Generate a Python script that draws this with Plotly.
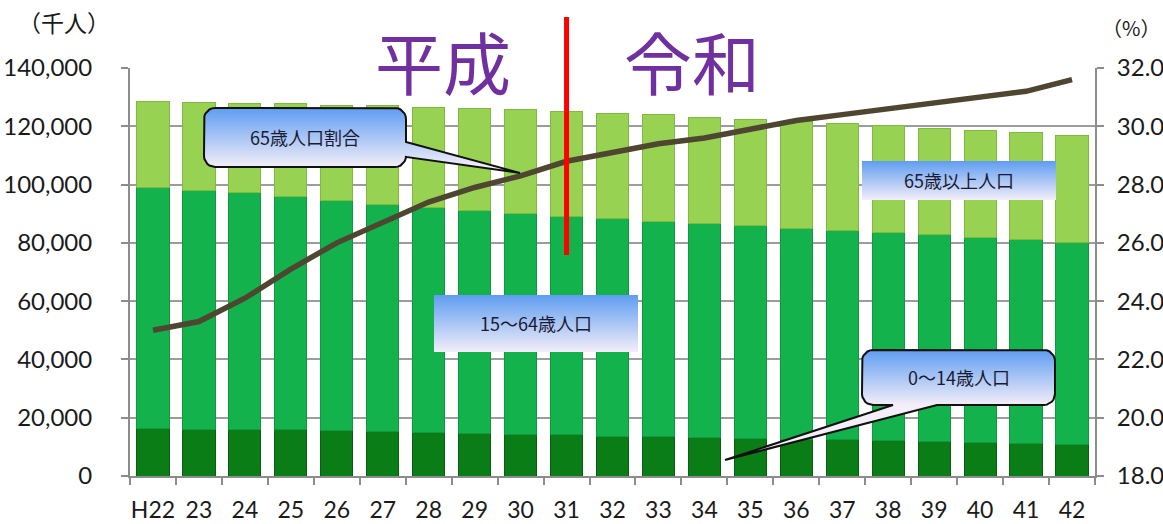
import math
import plotly.graph_objects as go

# ---------------- data ----------------
categories = ["H22", "23", "24", "25", "26", "27", "28", "29", "30", "31", "32",
              "33", "34", "35", "36", "37", "38", "39", "40", "41", "42"]
pop_0_14 = [16400, 16100, 16000, 15800, 15500, 15200, 15000, 14600, 14400, 14100, 13700,
            13500, 13300, 12900, 12600, 12400, 12100, 11800, 11400, 11200, 10900]
pop_15_64 = [82700, 82000, 81200, 80000, 79000, 78000, 77200, 76400, 75700, 74900, 74500,
             73800, 73200, 72900, 72400, 71800, 71400, 70900, 70400, 69800, 69200]
pop_65 = [29300, 30000, 30500, 31900, 32800, 33800, 34300, 35200, 35500, 36000, 36300,
          36600, 36600, 36600, 36700, 36800, 36700, 36700, 36800, 36800, 36900]
ratio_65 = [23.0, 23.3, 24.1, 25.1, 26.0, 26.7, 27.4, 27.9, 28.3, 28.8, 29.1,
            29.4, 29.6, 29.9, 30.2, 30.4, 30.6, 30.8, 31.0, 31.2, 31.6]
era_split = "31"

# ---------------- layout geometry (pixels) ----------------
W, H = 1163, 524
L, R, T, B = 130, 1095, 68, 476


def px(x, y):
    return (x - L) / (R - L), (B - y) / (B - T)


FONT_NUM = "Lato"
FONT_JP = "Noto Sans CJK JP"

fig = go.Figure()

fig.add_trace(go.Bar(x=categories, y=pop_0_14, name="0〜14歳人口",
                     marker=dict(color="#0b7d17", line=dict(color="#07600f", width=1))))
fig.add_trace(go.Bar(x=categories, y=pop_15_64, name="15〜64歳人口",
                     marker=dict(color="#14b24d", line=dict(color="#0f9a40", width=1))))
fig.add_trace(go.Bar(x=categories, y=pop_65, name="65歳以上人口",
                     marker=dict(color="#98d253", line=dict(color="#80b940", width=1))))
fig.add_trace(go.Scatter(x=categories, y=ratio_65, yaxis="y2", mode="lines",
                         line=dict(color="#4f4631", width=5.5), name="65歳人口割合"))


# ---------------- callout boxes (decoration, pixel space) ----------------
def arc(cx, cy, r, a0, a1, n=6):
    pts = []
    for i in range(n + 1):
        t = math.radians(a0 + (a1 - a0) * i / n)
        pts.append((cx + r * math.cos(t), cy + r * math.sin(t)))
    return pts


def callout(x0, y0, x1, y1, r=0, right_tail=None, bottom_tail=None):
    pts = []
    if r > 0:
        pts += [(x0 + r, y0), (x1 - r, y0)]
        pts += arc(x1 - r, y0 + r, r, -90, 0)
    else:
        pts += [(x0, y0), (x1, y0)]
    if right_tail:
        ty0, ty1, tip = right_tail
        pts += [(x1, ty0), tip, (x1, ty1)]
    if r > 0:
        pts += arc(x1 - r, y1 - r, r, 0, 90)
    else:
        pts += [(x1, y1)]
    if bottom_tail:
        bx1, bx0, tip = bottom_tail
        pts += [(bx1, y1), tip, (bx0, y1)]
    if r > 0:
        pts += arc(x0 + r, y1 - r, r, 90, 180)
        pts += arc(x0 + r, y0 + r, r, 180, 270)
    else:
        pts += [(x0, y1), (x0, y0)]
    pts.append(pts[0])
    return [p[0] for p in pts], [p[1] for p in pts]


boxes = [
    dict(rect=(204, 108, 406, 167), r=11, right_tail=(142, 157, (520, 173)), border=True,
         text="65歳人口割合"),
    dict(rect=(862, 161, 1056, 200), r=0, border=False, text="65歳以上人口"),
    dict(rect=(434, 295, 638, 352), r=0, border=False, text="15〜64歳人口"),
    dict(rect=(862, 350, 1055, 405), r=11, bottom_tail=(937, 893, (725, 460)), border=True,
         text="0〜14歳人口"),
]

for b in boxes:
    x0, y0, x1, y1 = b["rect"]
    xs, ys = callout(x0, y0, x1, y1, b["r"], b.get("right_tail"), b.get("bottom_tail"))
    fig.add_trace(go.Scatter(
        x=xs, y=ys, xaxis="x3", yaxis="y3", mode="lines", fill="toself",
        line=dict(color="#111111" if b["border"] else "rgba(0,0,0,0)",
                  width=2 if b["border"] else 0),
        fillgradient=dict(type="vertical",
                          colorscale=[[0, "#5f9df1"], [1, "#f3eef8"]],
                          start=y0, stop=y1),
        hoverinfo="skip", showlegend=False))


def note(x, y, text, size, color, family=FONT_JP):
    ax, ay = px(x, y)
    return dict(x=ax, y=ay, xref="paper", yref="paper", text=text, showarrow=False,
                xanchor="center", yanchor="middle",
                font=dict(family=family, size=size, color=color))


annotations = []
for b in boxes:
    x0, y0, x1, y1 = b["rect"]
    annotations.append(note((x0 + x1) / 2, (y0 + y1) / 2 - 1, b["text"], 18, "#1a1a33"))

# axis unit labels
annotations.append(note(64, 22, "（千人）", 23, "#1a1a1a"))
annotations.append(note(1131, 28, "（%）", 20, "#1a1a1a"))

# era labels
annotations.append(note(443, 60, "平成", 68, "#7030a0"))
annotations.append(note(692, 60, "令和", 68, "#7030a0"))

split_idx = categories.index(era_split)
shapes = [dict(type="line", xref="x", yref="paper", x0=split_idx, x1=split_idx,
               y0=px(0, 255)[1], y1=px(0, 17)[1],
               line=dict(color="#ff0000", width=5), layer="above")]

axis_col = "#8c8c8c"
fig.update_layout(
    width=W, height=H,
    margin=dict(l=L, r=W - R, t=T, b=H - B, pad=0),
    paper_bgcolor="white", plot_bgcolor="white",
    barmode="stack", bargap=0.3, showlegend=False,
    xaxis=dict(type="category", range=[-0.5, len(categories) - 0.5], autorange=False,
               tickson="boundaries", ticks="outside", ticklen=7, tickangle=0,
               tickwidth=2, tickcolor=axis_col, showline=True, linecolor=axis_col,
               linewidth=2, showgrid=False, ticklabelstandoff=12, automargin=False,
               tickfont=dict(family=FONT_NUM, size=23, color="#1a1a1a")),
    yaxis=dict(range=[0, 140000], dtick=20000, tickformat=",", showgrid=True,
               gridcolor="#9c9c9c", gridwidth=1.5, zeroline=False, showline=True,
               linecolor=axis_col, linewidth=2, ticks="outside", ticklen=7, tickwidth=2,
               tickcolor=axis_col, ticklabelstandoff=24, automargin=False,
               tickfont=dict(family=FONT_NUM, size=24, color="#1a1a1a")),
    yaxis2=dict(range=[18, 32], dtick=2, tickformat=".1f", overlaying="y", side="right",
                showgrid=False, zeroline=False, showline=True, linecolor=axis_col,
                linewidth=2, ticks="outside", ticklen=7, tickwidth=2, tickcolor=axis_col,
                ticklabelstandoff=8, automargin=False,
                tickfont=dict(family=FONT_NUM, size=24, color="#1a1a1a")),
    xaxis3=dict(overlaying="x", range=[L, R], visible=False, anchor="y3", automargin=False),
    yaxis3=dict(overlaying="y", range=[B, T], visible=False, anchor="x3", automargin=False),
    annotations=annotations,
    shapes=shapes,
)

fig.write_html("out.html")
